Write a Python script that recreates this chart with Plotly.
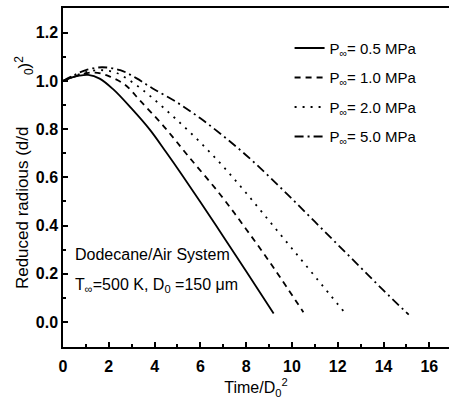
import plotly.graph_objects as go

# Reduced radius (d/d0)^2 versus Time/D0^2 for four ambient pressures
pressure_labels = ["0.5", "1.0", "2.0", "5.0"]

time_05 = [0, 0.3, 0.7, 1.1, 1.6, 2.2, 3.0, 3.8, 4.5, 5.2, 6.0, 7.0, 8.0, 9.2]
radius_05 = [1.0, 1.012, 1.022, 1.025, 1.01, 0.965, 0.885, 0.797, 0.705, 0.61, 0.498, 0.355, 0.21, 0.035]

time_10 = [0, 0.4, 0.9, 1.4, 2.0, 2.7, 3.4, 4.4, 5.5, 6.9, 8.0, 9.2, 10.5]
radius_10 = [1.0, 1.015, 1.03, 1.035, 1.02, 0.985, 0.915, 0.812, 0.685, 0.525, 0.385, 0.225, 0.04]

time_20 = [0, 0.5, 1.0, 1.6, 2.3, 3.1, 3.9, 4.9, 6.0, 7.0, 8.0, 9.0, 10.0, 11.1, 12.25]
radius_20 = [1.0, 1.02, 1.037, 1.045, 1.035, 0.99, 0.93, 0.845, 0.745, 0.645, 0.535, 0.42, 0.305, 0.178, 0.045]

time_50 = [0, 0.5, 1.0, 1.7, 2.5, 3.2, 3.9, 5.0, 6.0, 7.0, 8.0, 9.0, 10.0, 11.0, 12.0, 13.0, 14.0, 15.1]
radius_50 = [1.0, 1.025, 1.045, 1.057, 1.045, 1.012, 0.97, 0.91, 0.845, 0.772, 0.692, 0.604, 0.511, 0.416, 0.321, 0.226, 0.131, 0.03]

series = [
    (time_05, radius_05, "solid"),
    (time_10, radius_10, "6px,5px"),
    (time_20, radius_20, "2px,6px"),
    (time_50, radius_50, "9px,4px,2px,4px"),
]

font_family = "Liberation Sans Narrow, Liberation Sans, Arial, sans-serif"

fig = go.Figure()
for (t, r, dash), p in zip(series, pressure_labels):
    fig.add_trace(go.Scatter(
        x=t, y=r, mode="lines",
        line=dict(color="black", width=1.8, dash=dash, shape="spline"),
        name=f"P<sub>∞</sub>= {p} MPa",
        legendgroup=p,
    ))

fig.add_annotation(
    x=0.45, y=0.278, xref="x", yref="y", xanchor="left",
    text="Dodecane/Air System", showarrow=False,
    font=dict(family=font_family, size=16, color="black"),
)
fig.add_annotation(
    x=0.45, y=0.15, xref="x", yref="y", xanchor="left",
    text="T<sub>∞</sub>=500 K, D<sub>0</sub> =150 μm", showarrow=False,
    font=dict(family=font_family, size=16, color="black"),
)

# y title: in the original the "0)²" part sits apart near the top
fig.add_annotation(
    x=-0.106, y=0.41, xref="paper", yref="paper",
    xanchor="center", yanchor="middle",
    text="Reduced radious (d/d", textangle=-90, showarrow=False,
    font=dict(family=font_family, size=17, color="black"),
)
fig.add_annotation(
    x=-0.1, y=0.83, xref="paper", yref="paper",
    xanchor="center", yanchor="middle",
    text="<sub>0</sub>)<sup>2</sup>", textangle=-90, showarrow=False,
    font=dict(family=font_family, size=17, color="black"),
)

fig.update_layout(
    width=449, height=405,
    margin=dict(l=63, r=0, t=8, b=58),
    plot_bgcolor="white", paper_bgcolor="white",
    font=dict(family=font_family, color="black"),
    legend=dict(
        x=0.587, y=0.93, xanchor="left", yanchor="top",
        bgcolor="rgba(0,0,0,0)", tracegroupgap=7,
        font=dict(family=font_family, size=15, color="black"),
    ),
    showlegend=True,
)

fig.update_xaxes(
    range=[0, 16.86], dtick=2, tick0=0, automargin=False,
    ticks="inside", ticklen=5, tickwidth=1.5, tickcolor="black",
    minor=dict(ticks="inside", ticklen=3, dtick=1, tickcolor="black"),
    showline=True, linecolor="black", linewidth=1.5, mirror=True,
    showgrid=False, zeroline=False, ticklabelstandoff=4,
    tickfont=dict(family=font_family, size=16, weight="bold"),
    title=dict(text="Time/D<sub>0</sub><sup>2</sup>",
               font=dict(family=font_family, size=16), standoff=8),
)
fig.update_yaxes(
    range=[-0.104, 1.303], dtick=0.2, tick0=0, tickformat=".1f", automargin=False,
    ticks="inside", ticklen=5, tickwidth=1.5, tickcolor="black",
    minor=dict(ticks="inside", ticklen=3, dtick=0.1, tickcolor="black"),
    showline=True, linecolor="black", linewidth=1.5, mirror=False,
    showgrid=False, zeroline=False,
    tickfont=dict(family=font_family, size=16, weight="bold"),
)

# the page body has a default 8px margin; remove it so the figure sits at the origin
fig.write_html("out.html", config={"displayModeBar": False},
               post_script="document.body.style.margin='0';")
